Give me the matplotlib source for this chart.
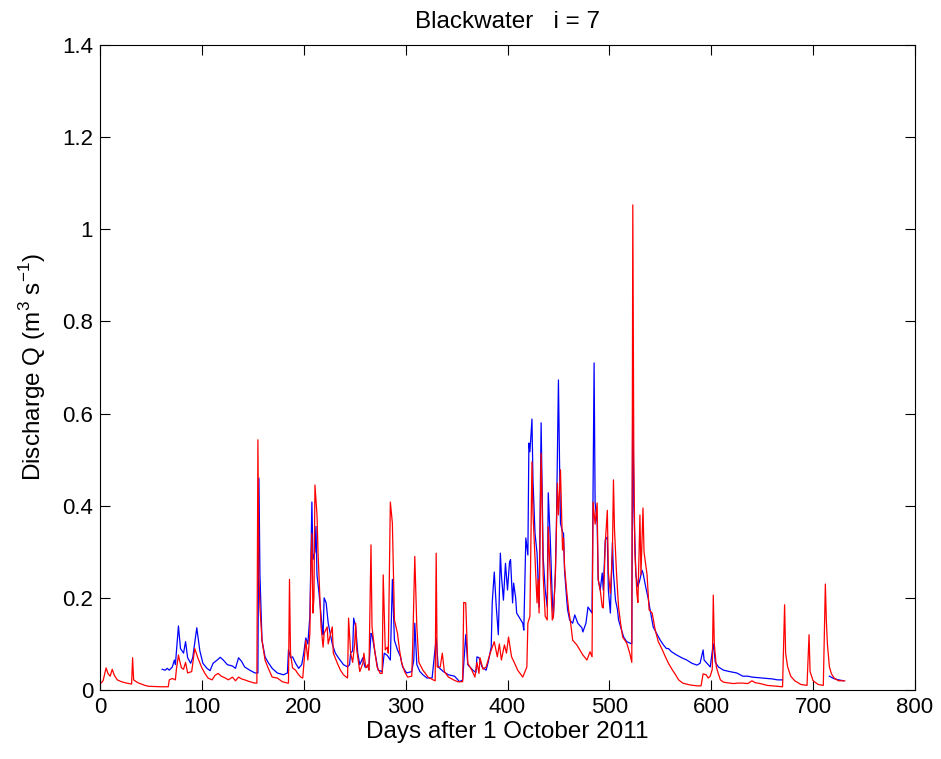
import numpy as np
import matplotlib
matplotlib.use('Agg')
import matplotlib.pyplot as plt

### data
# observed discharge (blue), nan = gap in record
dayObs = [61, 64, 66, 68, 71, 73, 74, 77, 79, 82, 84, 86, 89, 91, 95, 98, 101, 105, 108, 111,
          115, 118, 121, 125, 130, 133, 136, 139, 142, 147, 152, 155, 156, 157, 159, 162, 165, 169, 174, 180,
          184, 185, 187, 189, 192, 195, 198, 200, 202, 204, 206, 208, 209, 211, 212, 213, 215, 218, 219, 220,
          222, 224, 228, 231, 234, 239, 243, 245, 246, 248, 249, 251, 253, 255, 258, 260, 264, 266, 267, 270,
          273, 277, 279, 282, 285, 287, 289, 292, 295, 297, 301, 306, 308, 309, 311, 314, 317, 321, 326, 330,
          332, 337, 342, 348, 353, 356, 359, 361, 366, 369, 370, 372, 375, 379, 381, 384, 385, 387, 389, 391,
          393, 394, 396, 398, 400, 402, 403, 405, 406, 408, 409, 412, 415, 416, 418, 420, 421, 422, 424, 425,
          427, 429, 430, 431, 433, 434, 435, 437, 439, 440, 442, 444, 445, 447, 448, 450, 451, 452, 454, 455,
          456, 458, 459, 461, 464, 466, 469, 473, 474, 477, 479, 483, 485, 486, 488, 489, 491, 493, 494, 496,
          498, 499, 501, 503, 504, 506, 508, 509, 511, 514, 517, 520, 522, 523, 524, 526, 528, 530, 532, 533,
          536, 538, 540, 543, 547, 550, 553, 556, 558, 561, 566, 571, 576, 581, 586, 589, 592, 593, 595, 599,
          602, 604, 607, 612, 618, 625, 631, 636, 640, 645, 650, 655, 660, 665, 670, 671, 716, 720,
          725, 730]
Qobs = [0.045, 0.043, 0.047, 0.043, 0.05, 0.065, 0.055, 0.139, 0.09, 0.08, 0.105, 0.07, 0.058, 0.07, 0.135, 0.085, 0.058, 0.047, 0.042, 0.058,
        0.065, 0.071, 0.065, 0.055, 0.052, 0.047, 0.07, 0.062, 0.05, 0.043, 0.037, 0.037, 0.46, 0.25, 0.108, 0.072, 0.06, 0.047, 0.037, 0.033,
        0.037, 0.087, 0.07, 0.072, 0.058, 0.047, 0.055, 0.08, 0.113, 0.1, 0.16, 0.408, 0.283, 0.3, 0.355, 0.25, 0.21, 0.137, 0.12, 0.2,
        0.189, 0.145, 0.1, 0.08, 0.07, 0.055, 0.05, 0.055, 0.08, 0.085, 0.156, 0.137, 0.08, 0.055, 0.07, 0.05, 0.05, 0.123, 0.12, 0.08,
        0.043, 0.04, 0.08, 0.075, 0.065, 0.24, 0.108, 0.087, 0.072, 0.05, 0.037, 0.04, 0.065, 0.145, 0.055, 0.04, 0.033, 0.026, 0.026, 0.113,
        0.05, 0.04, 0.033, 0.03, 0.018, 0.022, 0.12, 0.055, 0.043, 0.038, 0.072, 0.07, 0.05, 0.043, 0.06, 0.093, 0.189, 0.256, 0.18, 0.12,
        0.297, 0.25, 0.195, 0.275, 0.217, 0.278, 0.283, 0.189, 0.232, 0.2, 0.167, 0.156, 0.145, 0.13, 0.33, 0.293, 0.536, 0.517, 0.588, 0.456,
        0.34, 0.297, 0.24, 0.18, 0.58, 0.434, 0.289, 0.217, 0.18, 0.428, 0.326, 0.195, 0.158, 0.254, 0.354, 0.673, 0.506, 0.362, 0.343, 0.34,
        0.26, 0.2, 0.174, 0.152, 0.145, 0.163, 0.145, 0.135, 0.126, 0.145, 0.18, 0.167, 0.71, 0.406, 0.362, 0.24, 0.217, 0.254, 0.217, 0.326,
        0.332, 0.217, 0.167, 0.32, 0.254, 0.195, 0.174, 0.152, 0.137, 0.115, 0.105, 0.102, 0.1, 0.68, 0.4, 0.25, 0.224, 0.24, 0.26, 0.254,
        0.22, 0.2, 0.174, 0.137, 0.12, 0.108, 0.098, 0.09, 0.09, 0.083, 0.076, 0.07, 0.065, 0.058, 0.054, 0.058, 0.087, 0.065, 0.06, 0.05,
        0.1, 0.06, 0.05, 0.043, 0.04, 0.037, 0.03, 0.03, 0.028, 0.027, 0.026, 0.025, 0.024, 0.022, 0.022, np.nan, 0.03, 0.025,
        0.022, 0.02]

# modelled discharge (red)
dayMod = [0, 1, 3, 6, 8, 10, 12, 14, 17, 21, 26, 31, 32, 33, 37, 44, 48, 60, 67, 68,
          71, 74, 75, 77, 78, 80, 82, 84, 86, 90, 93, 96, 100, 103, 106, 110, 113, 116, 119, 123,
          126, 130, 133, 136, 139, 142, 147, 152, 154, 155, 156, 157, 159, 162, 165, 169, 174, 179, 184, 185,
          186, 187, 189, 192, 194, 197, 199, 202, 204, 206, 207, 208, 209, 210, 211, 213, 214, 215, 217, 219,
          220, 223, 224, 228, 229, 233, 236, 239, 243, 244, 246, 248, 250, 251, 252, 255, 258, 259, 261, 263,
          264, 266, 267, 270, 272, 275, 277, 278, 280, 282, 283, 285, 287, 289, 292, 294, 296, 299, 302, 306,
          307, 309, 311, 313, 317, 322, 327, 329, 330, 331, 334, 336, 338, 342, 347, 351, 356, 357, 359, 361,
          365, 368, 370, 372, 373, 376, 379, 383, 387, 390, 392, 394, 397, 399, 401, 404, 407, 410, 415, 419,
          420, 422, 424, 425, 427, 429, 430, 431, 433, 434, 435, 437, 439, 440, 442, 444, 445, 447, 449, 450,
          452, 454, 455, 456, 458, 460, 462, 464, 468, 471, 474, 478, 481, 483, 484, 486, 488, 489, 491, 493,
          494, 496, 498, 499, 501, 503, 504, 505, 507, 509, 511, 513, 517, 520, 522, 523, 524, 525, 527, 528,
          530, 531, 533, 534, 537, 539, 542, 545, 548, 552, 555, 558, 562, 565, 568, 572, 579, 586, 590, 592,
          595, 597, 599, 601, 602, 603, 605, 607, 609, 612, 618, 622, 626, 631, 636, 640, 643, 648, 655, 665,
          670, 672, 673, 675, 678, 682, 688, 694, 696, 697, 700, 705, 710, 712, 713, 714, 716, 718, 721, 725,
          731]
Qmod = [0.015, 0.015, 0.02, 0.048, 0.035, 0.03, 0.045, 0.032, 0.022, 0.018, 0.015, 0.013, 0.07, 0.022, 0.016, 0.01, 0.008, 0.007, 0.007, 0.022,
        0.025, 0.022, 0.045, 0.076, 0.065, 0.048, 0.045, 0.06, 0.037, 0.04, 0.09, 0.07, 0.048, 0.036, 0.026, 0.022, 0.032, 0.036, 0.03, 0.026,
        0.022, 0.028, 0.02, 0.028, 0.024, 0.022, 0.018, 0.015, 0.015, 0.543, 0.25, 0.18, 0.108, 0.065, 0.048, 0.028, 0.026, 0.018, 0.015, 0.015,
        0.24, 0.08, 0.048, 0.043, 0.036, 0.028, 0.026, 0.108, 0.065, 0.123, 0.267, 0.34, 0.167, 0.2, 0.445, 0.38, 0.3, 0.245, 0.137, 0.093,
        0.123, 0.137, 0.1, 0.137, 0.08, 0.058, 0.043, 0.033, 0.026, 0.156, 0.08, 0.06, 0.1, 0.145, 0.087, 0.04, 0.058, 0.08, 0.048, 0.055,
        0.043, 0.315, 0.137, 0.08, 0.05, 0.036, 0.036, 0.25, 0.087, 0.093, 0.08, 0.408, 0.362, 0.152, 0.123, 0.087, 0.06, 0.04, 0.028, 0.03,
        0.1, 0.29, 0.137, 0.06, 0.043, 0.028, 0.022, 0.02, 0.297, 0.05, 0.05, 0.08, 0.04, 0.028, 0.022, 0.018, 0.018, 0.19, 0.189, 0.058,
        0.043, 0.028, 0.06, 0.036, 0.07, 0.045, 0.05, 0.08, 0.105, 0.072, 0.1, 0.065, 0.098, 0.08, 0.115, 0.072, 0.058, 0.043, 0.028, 0.05,
        0.145, 0.16, 0.495, 0.384, 0.289, 0.189, 0.24, 0.167, 0.514, 0.4, 0.25, 0.16, 0.152, 0.354, 0.25, 0.152, 0.158, 0.25, 0.449, 0.38,
        0.478, 0.304, 0.33, 0.267, 0.217, 0.174, 0.145, 0.108, 0.098, 0.087, 0.076, 0.065, 0.083, 0.072, 0.408, 0.36, 0.406, 0.24, 0.217, 0.18,
        0.178, 0.32, 0.39, 0.254, 0.21, 0.3, 0.456, 0.35, 0.254, 0.18, 0.145, 0.115, 0.102, 0.08, 0.06, 1.053, 0.5, 0.3, 0.21, 0.19,
        0.38, 0.25, 0.395, 0.3, 0.25, 0.174, 0.167, 0.13, 0.105, 0.087, 0.072, 0.058, 0.043, 0.033, 0.022, 0.015, 0.011, 0.009, 0.009, 0.035,
        0.033, 0.026, 0.03, 0.045, 0.206, 0.1, 0.05, 0.035, 0.022, 0.017, 0.015, 0.014, 0.015, 0.015, 0.014, 0.02, 0.016, 0.014, 0.01, 0.008,
        0.007, 0.185, 0.08, 0.05, 0.03, 0.02, 0.012, 0.01, 0.12, 0.04, 0.02, 0.012, 0.01, 0.23, 0.15, 0.1, 0.05, 0.035, 0.025, 0.02,
        0.02]

xTicks = [0, 100, 200, 300, 400, 500, 600, 700, 800]
yTicks = [0, 0.2, 0.4, 0.6, 0.8, 1, 1.2, 1.4]
yTickLabels = ['0', '0.2', '0.4', '0.6', '0.8', '1', '1.2', '1.4']

### figure
plt.rcParams['font.family'] = ['Liberation Sans', 'DejaVu Sans']
plt.rcParams['mathtext.fontset'] = 'custom'
plt.rcParams['mathtext.rm'] = 'Liberation Sans'

fig = plt.figure(figsize=(9.41, 7.59), dpi=100)
ax = fig.add_axes([100/941, 69/759, 815/941, 645/759])

ax.plot(dayObs, Qobs, color=(0, 0, 1), lw=0.9)
ax.plot(dayMod, Qmod, color=(1, 0, 0), lw=0.9)

ax.set_xlim(0, 800)
ax.set_ylim(0, 1.4)
ax.set_xticks(xTicks)
ax.set_yticks(yTicks)
ax.set_yticklabels(yTickLabels)
ax.tick_params(direction='in', top=True, right=True, length=7, width=0.8, labelsize=16, pad=5)
for sp in ax.spines.values():
    sp.set_linewidth(0.8)

ax.set_title('Blackwater   i = 7', fontsize=17.5, pad=12)
ax.set_xlabel('Days after 1 October 2011', fontsize=17.5, labelpad=2)
ax.set_ylabel('Discharge Q (m$^3$ s$^{-1}$)', fontsize=17.5, labelpad=10)

fig.savefig('out.png', dpi=100)
